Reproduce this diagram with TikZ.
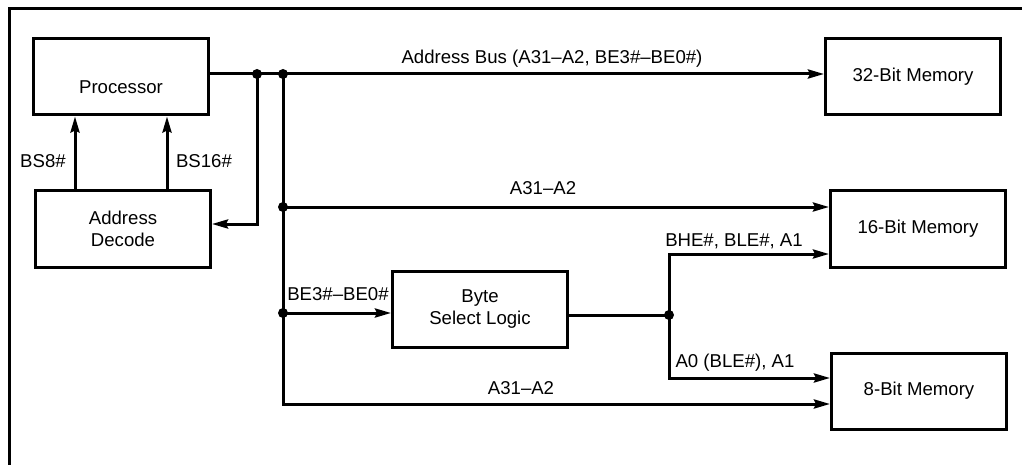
\documentclass[tikz,border=0pt]{standalone}
\usepackage{fontspec}
\setmainfont{Liberation Sans}
\usetikzlibrary{arrows.meta}

\begin{document}
\begin{tikzpicture}[x=1pt, y=-1pt, line width=3pt,
  font=\fontsize{18.6}{22.5}\selectfont,
  >={Stealth[length=16pt, width=9pt, inset=2pt]},
  box/.style={draw, inner sep=0pt, align=center, minimum width=175pt, minimum height=76pt},
  lbl/.style={inner sep=0pt}]
  \useasboundingbox (0,0) rectangle (1022,465);

  % Outer frame (only top and left edge are in view)
  \draw (1040,9) -- (9,9) -- (9,480);

  % Blocks
  \node[box, text height=33pt, text depth=0pt] (proc) at (121,77) {Processor};
  \node[box] (dec) at (123,229) {Address\\Decode};
  \node[box] (bsl) at (480,309) {Byte\\Select Logic};
  \node[box] (mem32) at (913,77) {32-Bit Memory};
  \node[box] (mem16) at (918,229) {16-Bit Memory};
  \node[box] (mem8) at (919,391) {8-Bit Memory};

  % Junction points
  \coordinate (j1) at (257,74);
  \coordinate (j2) at (283,74);
  \coordinate (j3) at (283,207);
  \coordinate (j4) at (283,313);
  \coordinate (j6) at (669,315);

  % Address bus to the 32-bit memory and back to the decoder
  \draw[->] (proc.east |- j1) -- (mem32.west |- j1);
  \draw[->] (j1) |- ([yshift=5pt]dec.east);

  % Bus size signals
  \draw[->] ([xshift=-48pt]dec.north) -- ([xshift=-48pt]dec.north |- proc.south);
  \draw[->] ([xshift=44pt]dec.north) -- ([xshift=44pt]dec.north |- proc.south);

  % Vertical bus and its branches
  \draw[->] (j2) |- ([yshift=-13pt]mem8.west);
  \draw[->] (j3) -- (j3 -| mem16.west);
  \draw[->] (j4) -- (j4 -| bsl.west);
  \draw (bsl.east |- j6) -- (j6);
  \draw[->] (j6) |- ([yshift=-25pt]mem16.west);
  \draw[->] (j6) |- ([yshift=13pt]mem8.west);

  % Dots
  \fill (j1) circle (5pt);
  \fill (j2) circle (5pt);
  \fill (j3) circle (5pt);
  \fill (j4) circle (5pt);
  \fill (j6) circle (5pt);

  % Labels
  \node[lbl] (lbus) at (552,59) {Address Bus (A31–A2, BE3\#–BE0\#)};
  \node[lbl] (la16) at (543,188) {A31–A2};
  \node[lbl] (lbe) at (338,294) {BE3\#–BE0\#};
  \node[lbl] (la8) at (521,388) {A31–A2};
  \node[lbl] (lbhe) at (734,241) {BHE\#, BLE\#, A1};
  \node[lbl] (lao) at (735,363) {A0 (BLE\#), A1};
  \node[lbl] (lbs8) at (43,161) {BS8\#};
  \node[lbl] (lbs16) at (204,161) {BS16\#};
\end{tikzpicture}
\end{document}
